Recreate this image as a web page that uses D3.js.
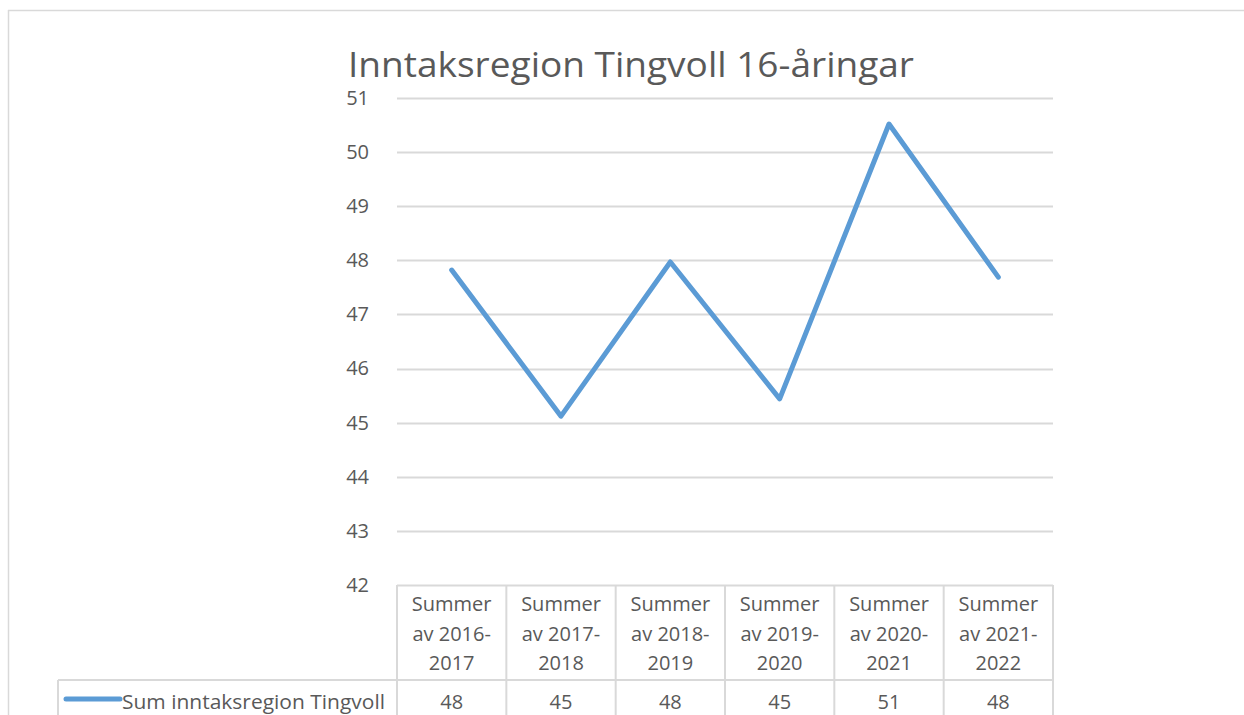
<!DOCTYPE html>
<html>
<head>
<meta charset="utf-8">
<script src="https://cdn.jsdelivr.net/npm/d3@7"></script>
<style>
  body { margin: 0; background: #fff; }
  text { font-family: "Open Sans", Lato, sans-serif; fill: #595959; }
</style>
</head>
<body>
<script>
// chart data
var title = "Inntaksregion Tingvoll 16-åringar"
  , seriesName = "Sum inntaksregion Tingvoll"
  , categories = [
        ["Summer", "av 2016-", "2017"],
        ["Summer", "av 2017-", "2018"],
        ["Summer", "av 2018-", "2019"],
        ["Summer", "av 2019-", "2020"],
        ["Summer", "av 2020-", "2021"],
        ["Summer", "av 2021-", "2022"]
    ]
  , values = [47.82, 45.12, 47.97, 45.44, 50.52, 47.69]
  , tableValues = ["48", "45", "48", "45", "51", "48"]
  , yTicks = [42, 43, 44, 45, 46, 47, 48, 49, 50, 51]
  ;

var width = 1244
  , height = 715
  , grid = "#d9d9d9"
  , blue = "#5b9bd5"
  , plotLeft = 397
  , plotRight = 1053
  , plotTop = 98
  , plotBottom = 585
  , headerBottom = 680
  , legendLeft = 58
  , fontSize = 20
  ;

var svg = d3.select("body").append("svg").attr("width", width).attr("height", height);

var x = d3.scaleBand().domain(d3.range(categories.length)).range([plotLeft, plotRight]);
var y = d3.scaleLinear().domain([42, 51]).range([plotBottom, plotTop]);

function cx (i) { return x(i) + x.bandwidth() / 2; }

// outer frame (top + left)
svg.append("line").attr("x1", 8).attr("x2", width).attr("y1", 10.5).attr("y2", 10.5)
    .attr("stroke", grid).attr("stroke-width", 1.5);
svg.append("line").attr("x1", 8.5).attr("x2", 8.5).attr("y1", 10).attr("y2", height)
    .attr("stroke", grid).attr("stroke-width", 1.5);

// title
svg.append("text")
    .attr("x", 631).attr("y", 77)
    .attr("text-anchor", "middle")
    .attr("font-size", 34)
    .attr("textLength", 566).attr("lengthAdjust", "spacingAndGlyphs")
    .text(title);

// gridlines
svg.append("g").selectAll("line").data(yTicks).join("line")
    .attr("x1", plotLeft).attr("x2", plotRight)
    .attr("y1", function (d) { return Math.round(y(d)) + 0.5; })
    .attr("y2", function (d) { return Math.round(y(d)) + 0.5; })
    .attr("stroke", grid).attr("stroke-width", 2);

// y axis labels
var yAxis = svg.append("g")
    .attr("transform", "translate(369,0)")
    .call(d3.axisLeft(y).tickValues(yTicks).tickSize(0).tickPadding(0).tickFormat(d3.format("d")));
yAxis.select(".domain").remove();
yAxis.selectAll("text").attr("font-size", fontSize).attr("fill", "#595959")
    .style("font-family", "'Open Sans', Lato, sans-serif");

// data table grid
var tbl = svg.append("g").attr("stroke", grid).attr("stroke-width", 2);
tbl.selectAll(".col").data(d3.range(categories.length + 1)).join("line")
    .attr("x1", function (i) { return i < categories.length ? x(i) : plotRight; })
    .attr("x2", function (i) { return i < categories.length ? x(i) : plotRight; })
    .attr("y1", plotBottom).attr("y2", height);
tbl.append("line").attr("x1", legendLeft).attr("x2", plotRight)
    .attr("y1", headerBottom).attr("y2", headerBottom);
tbl.append("line").attr("x1", legendLeft).attr("x2", legendLeft)
    .attr("y1", headerBottom).attr("y2", height);

// header text
var head = svg.append("g").selectAll("text").data(categories).join("text")
    .attr("text-anchor", "middle")
    .attr("font-size", fontSize)
    .attr("x", function (d, i) { return cx(i); });
head.selectAll("tspan").data(function (d) { return d; }).join("tspan")
    .attr("x", function () { return d3.select(this.parentNode).attr("x"); })
    .attr("y", function (d, j) { return 611 + j * 29.5; })
    .text(function (d) { return d; });

// values row
svg.append("g").selectAll("text").data(tableValues).join("text")
    .attr("text-anchor", "middle")
    .attr("font-size", fontSize)
    .attr("x", function (d, i) { return cx(i); })
    .attr("y", 709)
    .text(function (d) { return d; });

// legend key
svg.append("line").attr("x1", 66).attr("x2", 120).attr("y1", 699).attr("y2", 699)
    .attr("stroke", blue).attr("stroke-width", 5).attr("stroke-linecap", "round");
svg.append("text").attr("x", 122).attr("y", 709).attr("font-size", fontSize)
    .attr("textLength", 263).attr("lengthAdjust", "spacingAndGlyphs")
    .text(seriesName);

// series line
var line = d3.line()
    .x(function (d, i) { return cx(i); })
    .y(function (d) { return y(d); });

svg.append("path").datum(values)
    .attr("d", line)
    .attr("fill", "none")
    .attr("stroke", blue)
    .attr("stroke-width", 5)
    .attr("stroke-linejoin", "round")
    .attr("stroke-linecap", "round");
</script>
</body>
</html>
